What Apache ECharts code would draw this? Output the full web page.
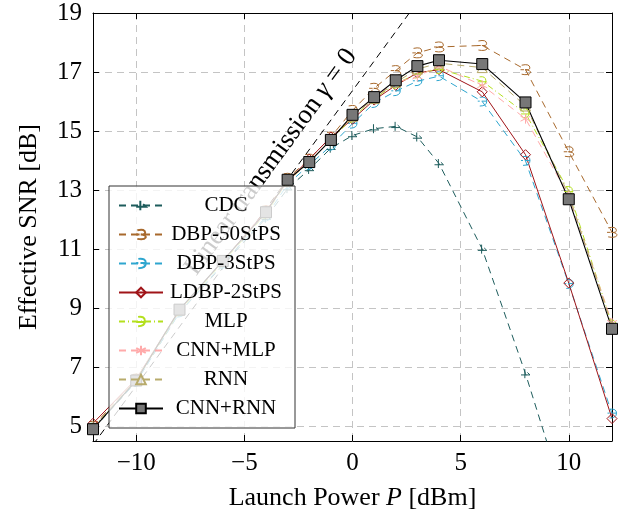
<!DOCTYPE html>
<html>
<head>
<meta charset="utf-8">
<script src="https://cdn.jsdelivr.net/npm/echarts@6/dist/echarts.min.js"></script>
<style>
html,body{margin:0;padding:0;background:#fff;}
#c{width:635px;height:516px;}
</style>
</head>
<body>
<div id="c"></div>
<script>
// ---- data ----
const P = [-12, -10, -8, -6, -4, -3, -2, -1, 0, 1, 2, 3, 4, 6, 8, 10, 12];
const cdc      = [4.9, 6.5, 8.85, 10.45, 12.05, 13.05, 13.7, 14.42, 14.85, 15.08, 15.16, 14.8, 13.9, 11.0, 6.78, 2.1, -3.5];
const dbp50    = [5.0, 6.6, 8.9, 10.6, 12.3, 13.4, 14.05, 14.8, 15.7, 16.45, 17.05, 17.65, 17.85, 17.9, 17.08, 14.3, 11.57];
const dbp3     = [4.95, 6.5, 8.85, 10.5, 12.1, 13.2, 13.85, 14.5, 15.25, 15.95, 16.35, 16.69, 16.86, 16.0, 13.99, 9.82, 5.43];
const ldbp2    = [5.1, 6.6, 8.95, 10.6, 12.3, 13.3, 14.05, 14.8, 15.4, 16.05, 16.55, 16.97, 17.08, 16.33, 14.2, 9.85, 5.26];
const mlp      = [4.95, 6.55, 8.9, 10.55, 12.2, 13.3, 13.95, 14.7, 15.45, 16.1, 16.6, 16.95, 17.1, 16.69, 15.6, 12.97, 8.45];
const cnnMlp   = [4.95, 6.6, 8.95, 10.6, 12.25, 13.3, 13.95, 14.7, 15.5, 16.15, 16.65, 16.85, 17.2, 16.55, 15.42, 12.8, 8.5];
const rnn      = [4.95, 6.6, 8.95, 10.6, 12.25, 13.3, 13.95, 14.7, 15.5, 16.1, 16.65, 17.1, 17.3, 17.15, 15.85, 12.85, 8.4];
const cnnRnn   = [4.9, 6.55, 8.95, 10.6, 12.25, 13.35, 13.95, 14.7, 15.55, 16.15, 16.72, 17.2, 17.4, 17.27, 15.97, 12.69, 8.3];
const linearP   = [-12, 2.63];
const linearSNR = [4.37, 19];
const names = ['CDC', 'DBP-50StPS', 'DBP-3StPS', 'LDBP-2StPS', 'MLP', 'CNN+MLP', 'RNN', 'CNN+RNN'];
const xTicks = [-10, -5, 0, 5, 10];
const yTicks = [5, 7, 9, 11, 13, 15, 17, 19];

const pairs = (xs, ys) => xs.map((x, i) => [x, ys[i]]);
const FONT = 'Liberation Serif';

const symCDC   = 'path://M3,0 L3,11 M0,7 L7,7 L5,4';
const symDBP50 = 'path://M1,1 Q8,-1 8,4 Q8,6.5 4,6 Q9,6.5 8.5,9.5 Q7,12.5 1,11 M0,6 L3,6';
const symDBP3  = 'path://M2,1 Q9,0 9,5 Q9,10 2,10 M4,5 L9,5 M0,5 L2,5';
const symMLP   = 'path://M2,1 Q9,0 9,5 Q9,10 2,10 M0,6 L10,6';
const symDiam  = 'path://M5,0 L10,5 L5,10 L0,5 Z';
const symStar  = 'path://M5,0 L5,10 M0.7,2.5 L9.3,7.5 M0.7,7.5 L9.3,2.5';
const symTri   = 'path://M5,0 L10,9 L0,9 Z';

function mk(name, ys, color, type, symbol, size, lw) {
  return {
    name: name, type: 'line', data: pairs(P, ys),
    symbol: symbol, symbolSize: size, showSymbol: true,
    lineStyle: { color: color, width: lw || 1, type: type },
    itemStyle: { color: 'none', borderColor: color, borderWidth: 1 },
    emphasis: { disabled: true },
    clip: true, animation: false, z: 2
  };
}

const series = [
  mk('CDC', cdc, '#1d5c5c', [7, 5], symCDC, 9),
  mk('DBP-50StPS', dbp50, '#a8692c', [7, 5], symDBP50, 10),
  mk('DBP-3StPS', dbp3, '#2ea6cf', [7, 5], symDBP3, 9),
  mk('LDBP-2StPS', ldbp2, '#a01418', 'solid', symDiam, 10),
  mk('MLP', mlp, '#b4e01e', [6, 3, 1, 3], symMLP, 9),
  mk('CNN+MLP', cnnMlp, '#ffaaaa', [7, 5], symStar, 10),
  mk('RNN', rnn, '#b8ab6c', [7, 5], symTri, 10),
  {
    name: 'CNN+RNN', type: 'line', data: pairs(P, cnnRnn),
    symbol: 'rect', symbolSize: 11,
    lineStyle: { color: '#000', width: 1.1, type: 'solid' },
    itemStyle: { color: '#777777', borderColor: '#000', borderWidth: 1 },
    emphasis: { disabled: true }, animation: false, z: 2
  },
  {
    name: 'linear', type: 'line', data: pairs(linearP, linearSNR),
    symbol: 'none', lineStyle: { color: '#000', width: 1, type: [7, 5] },
    emphasis: { disabled: true }, animation: false, z: 1, silent: true
  }
];

const grid = { left: 93, right: 23, top: 13, bottom: 73 };
const fmtX = v => (v < 0 ? '\u2212' + Math.abs(v) : String(v));

const chart = echarts.init(document.getElementById('c'), null, { renderer: 'canvas' });
chart.setOption({
  animation: false,
  backgroundColor: '#fff',
  textStyle: { fontFamily: FONT },
  grid: grid,
  xAxis: [{
    type: 'value', min: -12, max: 12, position: 'bottom',
    name: '{n|Launch Power }{i|P}{n| [dBm]}', nameLocation: 'middle', nameGap: 44,
    nameTextStyle: { rich: {
      n: { fontFamily: FONT, fontSize: 26, color: '#000' },
      i: { fontFamily: FONT, fontSize: 26, color: '#000', fontStyle: 'italic' } } },
    axisLine: { show: true, onZero: false, lineStyle: { color: '#000', width: 1 } },
    axisTick: { show: true, inside: true, length: 6, customValues: xTicks, lineStyle: { color: '#000' } },
    axisLabel: { show: true, customValues: xTicks, formatter: fmtX, fontFamily: FONT, fontSize: 25, color: '#000', margin: 10 },
    splitLine: { show: true, lineStyle: { color: '#c4c4c4', width: 1, type: [7, 5] } }
  }, {
    type: 'value', min: -12, max: 12, position: 'top',
    axisLine: { show: true, onZero: false, lineStyle: { color: '#000', width: 1 } },
    axisTick: { show: true, inside: true, length: 6, customValues: xTicks, lineStyle: { color: '#000' } },
    axisLabel: { show: false }, splitLine: { show: false }
  }],
  yAxis: [{
    type: 'value', min: 4.5, max: 19, position: 'left',
    name: 'Effective SNR [dB]', nameLocation: 'middle', nameGap: 51,
    nameTextStyle: { fontFamily: FONT, fontSize: 26, color: '#000' },
    axisLine: { show: true, onZero: false, lineStyle: { color: '#000', width: 1 } },
    axisTick: { show: true, inside: true, length: 6, customValues: yTicks, lineStyle: { color: '#000' } },
    axisLabel: { show: true, customValues: yTicks, fontFamily: FONT, fontSize: 25, color: '#000', margin: 11 },
    splitLine: { show: true, lineStyle: { color: '#c4c4c4', width: 1, type: [7, 5] } }
  }, {
    type: 'value', min: 4.5, max: 19, position: 'right',
    axisLine: { show: true, onZero: false, lineStyle: { color: '#000', width: 1 } },
    axisTick: { show: true, inside: true, length: 6, customValues: yTicks, lineStyle: { color: '#000' } },
    axisLabel: { show: false }, splitLine: { show: false }
  }],
  legend: {
    data: names, orient: 'vertical', left: 109, top: 186, z: 10,
    itemWidth: 44, itemHeight: 12, itemGap: 8,
    padding: [9, 11, 9, 9],
    backgroundColor: 'rgba(255,255,255,0.8)', borderColor: '#333', borderWidth: 1,
    selectedMode: false,
    formatter: n => '{a|' + n + '}',
    textStyle: { fontFamily: FONT, fontSize: 21, color: '#000',
      rich: { a: { width: 116, height: 21, lineHeight: 21, align: 'center', fontFamily: FONT, fontSize: 21, color: '#000' } } }
  },
  graphic: [{
    type: 'text', x: 271, y: 162, rotation: 53.9 * Math.PI / 180, z: 1, silent: true,
    style: {
      text: '{n|Linear transmission }{g|\u03B3}{n| = 0}',
      align: 'center', verticalAlign: 'middle',
      rich: {
        n: { fontFamily: FONT, fontSize: 27, fill: '#000' },
        g: { fontFamily: FONT, fontSize: 27, fill: '#000', fontStyle: 'italic' }
      }
    }
  }],
  series: series
});
</script>
</body>
</html>
